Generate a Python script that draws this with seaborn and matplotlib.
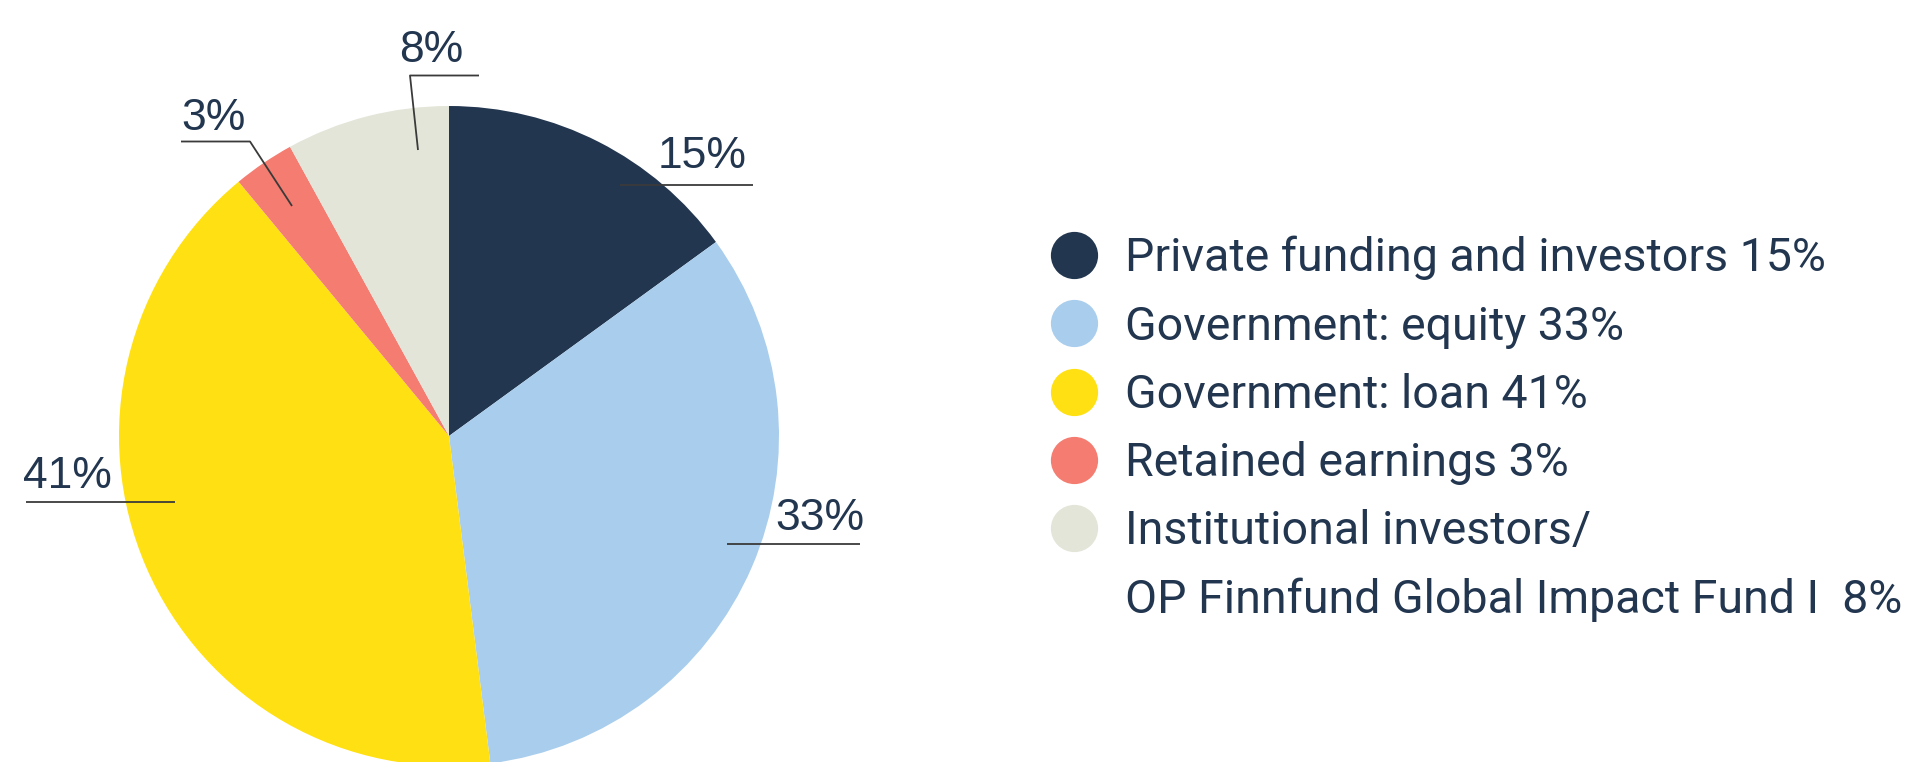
import matplotlib
matplotlib.use("Agg")
import matplotlib.pyplot as plt
from matplotlib.lines import Line2D
import seaborn as sns

# ---- data ----
categories = [
    "Private funding and investors",
    "Government: equity",
    "Government: loan",
    "Retained earnings",
    "Institutional investors/\nOP Finnfund Global Impact Fund I ",
]
values = [15, 33, 41, 3, 8]
colors = ["#22364f", "#a9cdec", "#ffe013", "#f47c70", "#e3e5d8"]
pct_labels = [f"{v}%" for v in values]

TEXT = "#22364f"
W, H, DPI = 1920, 762, 100

sns.set_theme(style="white")
plt.rcParams["font.family"] = ["Liberation Sans", "DejaVu Sans"]

fig = plt.figure(figsize=(W / DPI, H / DPI), dpi=DPI)
ax = fig.add_axes([0, 0, 1, 1])

def Y(py):
    return H - py

cx, cy, R = 449, 436, 330
wedges, _ = ax.pie(values, colors=colors, startangle=90, counterclock=False,
                   center=(cx, Y(cy)), radius=R,
                   wedgeprops=dict(linewidth=0, antialiased=True))
ax.set_xlim(0, W)
ax.set_ylim(0, H)
ax.set_aspect("equal")
ax.axis("off")

# ---- percentage labels with leader lines (layout, in pixels) ----
label_pos = [(702, 156), (820, 519), (67, 476), (214, 119), (431, 51)]
leaders = [
    [(620, 185), (753, 185)],
    [(727, 544), (860, 544)],
    [(26, 502), (175, 502)],
    [(181, 141.5), (250, 141.5), (292, 206)],
    [(479, 75.5), (410, 75.5), (418, 150)],
]
for txt, (tx, ty), pts in zip(pct_labels, label_pos, leaders):
    ax.text(tx, Y(ty), txt, ha="center", va="center", fontsize=32,
            color=TEXT, family=["Liberation Sans", "DejaVu Sans"])
    xs = [p[0] for p in pts]
    ys = [Y(p[1]) for p in pts]
    ax.plot(xs, ys, color="#3a3a3a", lw=1.3, solid_capstyle="butt")

# ---- legend ----
handles, labels = [], []
for cat, v, c in zip(categories, values, colors):
    lines = f"{cat} {v}%".split("\n")
    handles.append(Line2D([], [], ls="", marker="o", markersize=34,
                          markerfacecolor=c, markeredgewidth=0))
    labels.append(lines[0])
    for extra in lines[1:]:
        handles.append(Line2D([], [], ls="", marker=None))
        labels.append(extra)

leg = fig.legend(handles, labels, loc="upper left",
                 bbox_to_anchor=(1051 / W, 1 - 236 / H),
                 frameon=False, borderpad=0, borderaxespad=0,
                 handlelength=1.0, handletextpad=0.58, labelspacing=0.52,
                 prop={"family": ["Roboto", "DejaVu Sans"], "size": 33.5})
for t in leg.get_texts():
    t.set_color(TEXT)

fig.savefig("out.png", dpi=DPI, facecolor="white")
